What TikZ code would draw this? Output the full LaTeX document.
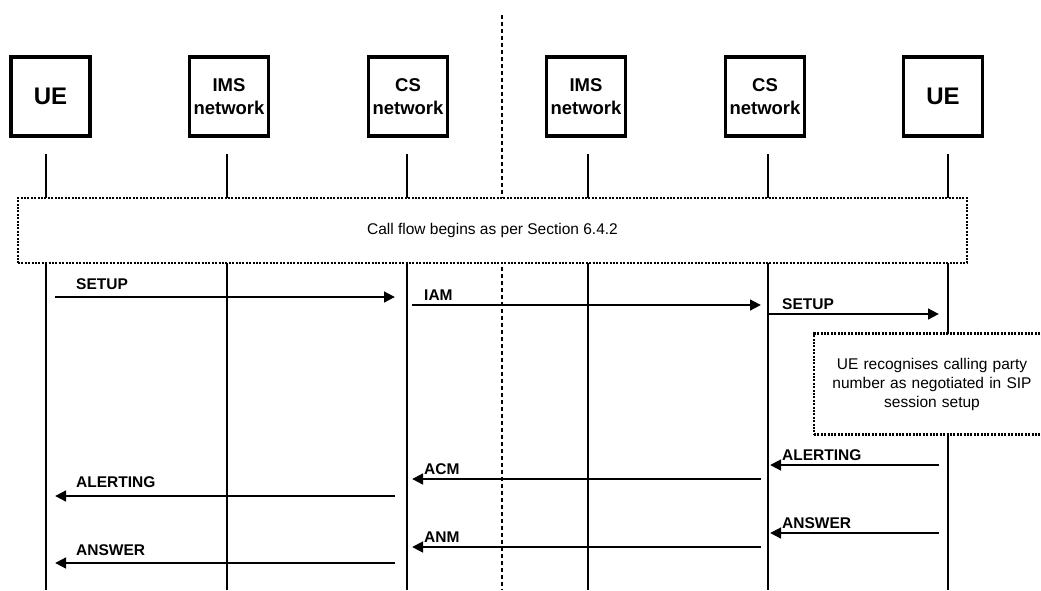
\documentclass[tikz,border=0pt]{standalone}
\usepackage{fontspec}
\setmainfont{Liberation Sans}
\usetikzlibrary{arrows.meta}
\begin{document}
\begin{tikzpicture}[x=1pt,y=-1pt,
  entity/.style={draw,line width=3.2pt,minimum width=79pt,minimum height=79pt,
    inner sep=0pt,align=center,font=\fontsize{18.5}{23}\selectfont\bfseries},
  bigentity/.style={entity,font=\fontsize{24}{28}\selectfont\bfseries},
  lifeline/.style={line width=2.2pt},
  divider/.style={line width=1.1pt,dash pattern=on 4pt off 3pt},
  notebox/.style={draw,fill=white,line width=2.6pt,dash pattern=on 2pt off 1.4pt,
    inner sep=0pt,align=center,font=\fontsize{15.5}{19}\selectfont},
  msg/.style={line width=2.8pt,-{Triangle[length=11pt,width=10.5pt]}},
  msglabel/.style={anchor=base west,inner sep=0pt,font=\fontsize{15.5}{18}\selectfont\bfseries}
]
\clip (0,0) rectangle (1041,590);
\fill[white] (0,0) rectangle (1041,590);

% entities
\node[bigentity] (ueA)  at (50.5,96.5)  {UE};
\node[entity]    (imsA) at (229,96.5)   {IMS\\network};
\node[entity]    (csA)  at (408,96.5)   {CS\\network};
\node[entity]    (imsB) at (586,96.5)   {IMS\\network};
\node[entity]    (csB)  at (765,96.5)   {CS\\network};
\node[bigentity] (ueB)  at (943,96.5)   {UE};

% lifeline ends
\foreach \n/\x in {ueA/46,imsA/227,csA/407,imsB/588,csB/768,ueB/948}{
  \coordinate (\n-top) at (\x,154);
  \coordinate (\n-bot) at (\x,590);
  \draw[lifeline] (\n-top) -- (\n-bot);
}

% network boundary
\coordinate (div-top) at (502,15);
\coordinate (div-bot) at (502,590);
\draw[divider] (div-top) -- (div-bot);

% notes
\node[notebox,minimum width=949pt,minimum height=65pt] (flow) at (492.5,230.5)
  {Call flow begins as per Section 6.4.2};
\node[notebox,minimum width=236pt,minimum height=101pt,text width=220pt] (recog) at (932,384)
  {UE recognises calling party\\number as negotiated in SIP\\session setup};

% message end points
\coordinate (m1a) at (55,297);   \coordinate (m1b) at (395,297);
\coordinate (m2a) at (412,305);  \coordinate (m2b) at (761,305);
\coordinate (m3a) at (769,314);  \coordinate (m3b) at (939,314);
\coordinate (m4a) at (939,465);  \coordinate (m4b) at (770,465);
\coordinate (m5a) at (761,479);  \coordinate (m5b) at (412,479);
\coordinate (m6a) at (395,496);  \coordinate (m6b) at (55,496);
\coordinate (m7a) at (939,533);  \coordinate (m7b) at (770,533);
\coordinate (m8a) at (761,547);  \coordinate (m8b) at (412,547);
\coordinate (m9a) at (395,563);  \coordinate (m9b) at (55,563);

% messages
\draw[msg] (m1a) -- (m1b);
\draw[msg] (m2a) -- (m2b);
\draw[msg] (m3a) -- (m3b);
\draw[msg] (m4a) -- (m4b);
\draw[msg] (m5a) -- (m5b);
\draw[msg] (m6a) -- (m6b);
\draw[msg] (m7a) -- (m7b);
\draw[msg] (m8a) -- (m8b);
\draw[msg] (m9a) -- (m9b);

% message labels
\node[msglabel] (l1) at (76,289)  {SETUP};
\node[msglabel] (l2) at (424,300) {IAM};
\node[msglabel] (l3) at (782,309) {SETUP};
\node[msglabel] (l4) at (782,460) {ALERTING};
\node[msglabel] (l5) at (424,474) {ACM};
\node[msglabel] (l6) at (76,487)  {ALERTING};
\node[msglabel] (l7) at (782,528) {ANSWER};
\node[msglabel] (l8) at (424,542) {ANM};
\node[msglabel] (l9) at (76,555)  {ANSWER};
\end{tikzpicture}
\end{document}
